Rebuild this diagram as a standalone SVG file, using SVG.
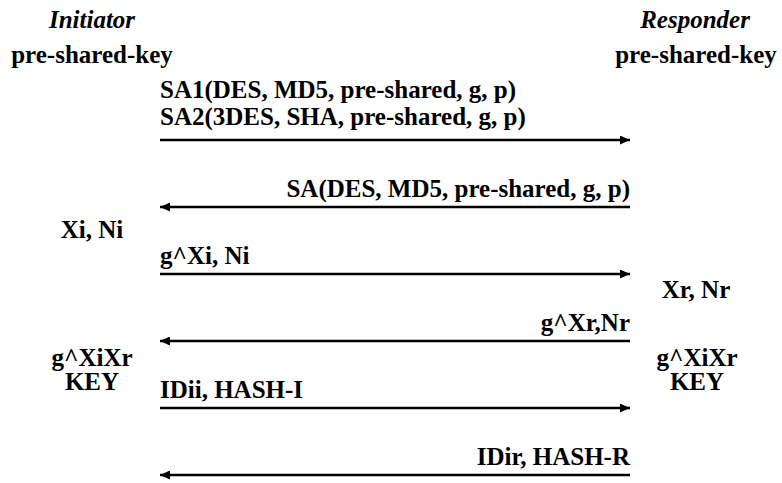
<svg xmlns="http://www.w3.org/2000/svg" width="782" height="483" viewBox="0 0 782 483">
<style>
text{font-weight:700;font-size:25px;fill:#000}
.it{font-style:italic}
.c{text-anchor:middle}
.e{text-anchor:end}
.ln{stroke:#000;stroke-width:2.5;fill:none}
</style>
<defs>
<marker id="ah" viewBox="0 0 10 9" refX="10" refY="4.5" markerWidth="10" markerHeight="9" markerUnits="userSpaceOnUse" orient="auto">
<path d="M0,0 L10,4.5 L0,9 z" fill="#000"/>
</marker>
</defs>
<rect width="782" height="483" fill="#fff"/>
<g font-family="Liberation Serif, Times New Roman, Times, Tinos, Nimbus Roman, FreeSerif, Noto Serif, DejaVu Serif, serif">
<g id="initiator">
<text class="it c" x="92" y="28">Initiator</text>
<text class="c" x="92" y="63">pre-shared-key</text>
<text class="c" x="92" y="238">Xi, Ni</text>
<text class="c" x="92" y="366">g^XiXr</text>
<text class="c" x="92" y="390">KEY</text>
</g>
<g id="responder">
<text class="it c" x="695" y="28">Responder</text>
<text class="c" x="696" y="63">pre-shared-key</text>
<text class="c" x="696" y="298">Xr, Nr</text>
<text class="c" x="697" y="366">g^XiXr</text>
<text class="c" x="697" y="390">KEY</text>
</g>
<g id="connectors">
<line class="ln" x1="160" y1="140" x2="630" y2="140" marker-end="url(#ah)"/>
<line class="ln" x1="630" y1="207" x2="160" y2="207" marker-end="url(#ah)"/>
<line class="ln" x1="160" y1="274" x2="630" y2="274" marker-end="url(#ah)"/>
<line class="ln" x1="630" y1="341" x2="160" y2="341" marker-end="url(#ah)"/>
<line class="ln" x1="160" y1="408" x2="630" y2="408" marker-end="url(#ah)"/>
<line class="ln" x1="630" y1="475" x2="160" y2="475" marker-end="url(#ah)"/>
</g>
<g id="labels">
<text x="160" y="98">SA1(DES, MD5, pre-shared, g, p)</text>
<text x="160" y="125">SA2(3DES, SHA, pre-shared, g, p)</text>
<text class="e" x="630" y="197">SA(DES, MD5, pre-shared, g, p)</text>
<text x="160" y="264">g^Xi, Ni</text>
<text class="e" x="630" y="331">g^Xr,Nr</text>
<text x="160" y="398">IDii, HASH-I</text>
<text class="e" x="630" y="465">IDir, HASH-R</text>
</g>
</g>
</svg>
